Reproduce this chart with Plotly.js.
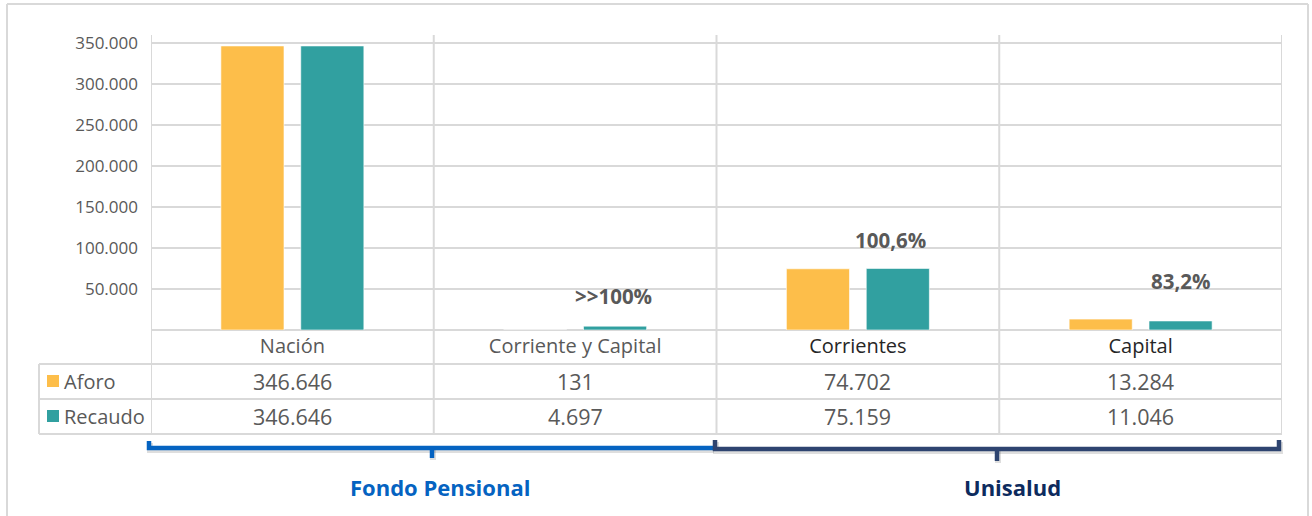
<!DOCTYPE html>
<html>
<head>
<meta charset="utf-8">
<script src="https://cdn.plot.ly/plotly-3.0.1.min.js"></script>
<style>
html,body{margin:0;padding:0;background:#fff;}
#chart{width:1312px;height:516px;}
</style>
</head>
<body>
<div id="chart"></div>
<script>
// ---- data ----
const categories = ['Nación', 'Corriente y Capital', 'Corrientes', 'Capital'];
const aforo = [346646, 131, 74702, 13284];
const recaudo = [346646, 4697, 75159, 11046];
const seriesNames = ['Aforo', 'Recaudo'];
const pctLabels = ['', '>>100%', '100,6%', '83,2%'];
const groupNames = ['Fondo Pensional', 'Unisalud'];
const yTicks = [50000, 100000, 150000, 200000, 250000, 300000, 350000];

// ---- styling ----
const FONT = 'Open Sans, Noto Sans, sans-serif';
const GRAY = '#595959';
const GRID = '#d9d9d9';
const C_AFORO = '#FDBE4A';
const C_RECAUDO = '#31A0A0';
const catColors = [GRAY, GRAY, '#262626', '#262626'];

// plot-area pixel geometry
const L = 151, R = 1282, T = 35, B = 330, W = 1312, H = 516;
const px = x => (x - L) / (R - L);
const py = y => (B - y) / (B - T);

function fmt(n) {
  return String(n).replace(/\B(?=(\d{3})+(?!\d))/g, '.');
}

const traces = [
  {type: 'bar', name: seriesNames[0], x: categories, y: aforo,
   marker: {color: C_AFORO, line: {color: 'rgba(255,255,255,0.6)', width: 1}}, hoverinfo: 'x+y'},
  {type: 'bar', name: seriesNames[1], x: categories, y: recaudo,
   marker: {color: C_RECAUDO, line: {color: 'rgba(255,255,255,0.6)', width: 1}}, hoverinfo: 'x+y'}
];

const shapes = [];
const line = (x0, y0, x1, y1, color, width) => shapes.push({
  type: 'line', xref: 'paper', yref: 'paper', x0: px(x0), y0: py(y0), x1: px(x1), y1: py(y1),
  line: {color: color || GRID, width: width || 2}, layer: 'below'
});

// outer frame
line(7, 4, 1308, 4); line(7, 4, 7, 520); line(1308, 4, 1308, 520);
// table rows
line(L, 330, R, 330);
line(39, 364, R, 364);
line(39, 399, R, 399);
line(39, 434, R, 434);
line(39, 364, 39, 434);
// vertical category separators (from top of plot through table)
[-0.5, 0.5, 1.5, 2.5, 3.5].forEach(v => shapes.push({
  type: 'line', xref: 'x', yref: 'paper', x0: v, x1: v, y0: 1, y1: py(434),
  line: {color: GRID, width: 2}, layer: 'below'
}));
// legend squares
shapes.push({type: 'rect', xref: 'paper', yref: 'paper', x0: px(47), x1: px(59), y0: py(375), y1: py(387),
  fillcolor: C_AFORO, line: {width: 0}});
shapes.push({type: 'rect', xref: 'paper', yref: 'paper', x0: px(47), x1: px(59), y0: py(410), y1: py(422),
  fillcolor: C_RECAUDO, line: {width: 0}});

// braces
function pathStr(pts) {
  return pts.map((p, i) => (i ? 'L' : 'M') + px(p[0]) + ',' + py(p[1])).join(' ');
}
function brace(pts, tick, color) {
  const sh = (arr) => arr.map(p => [p[0] + 1, p[1] + 2]);
  shapes.push({type: 'path', xref: 'paper', yref: 'paper', path: pathStr(sh(pts)), line: {color: 'rgba(0,0,0,0.13)', width: 6}});
  shapes.push({type: 'path', xref: 'paper', yref: 'paper', path: pathStr(sh(tick)), line: {color: 'rgba(0,0,0,0.13)', width: 6}});
  shapes.push({type: 'path', xref: 'paper', yref: 'paper', path: pathStr(pts), line: {color: color, width: 4.5}});
  shapes.push({type: 'path', xref: 'paper', yref: 'paper', path: pathStr(tick), line: {color: color, width: 4.5}});
}
brace([[149, 441], [149, 448], [713, 448]], [[432, 448], [432, 458]], '#0563C1');
brace([[715, 440], [715, 449], [1279, 449], [1279, 440]], [[997, 449], [997, 461]], '#2E4470');

const annotations = [];
// legend texts
[[seriesNames[0], 381.5], [seriesNames[1], 416.5]].forEach(([t, y]) => annotations.push({
  xref: 'paper', yref: 'paper', x: px(62), y: py(y), xanchor: 'left', yanchor: 'middle',
  text: t, showarrow: false, font: {family: FONT, size: 20, color: GRAY}
}));
// table values
categories.forEach((c, i) => {
  annotations.push({xref: 'x', yref: 'paper', x: c, y: py(381.5), xanchor: 'center', yanchor: 'middle',
    text: fmt(aforo[i]), showarrow: false, font: {family: FONT, size: 21.5, color: GRAY}});
  annotations.push({xref: 'x', yref: 'paper', x: c, y: py(416.5), xanchor: 'center', yanchor: 'middle',
    text: fmt(recaudo[i]), showarrow: false, font: {family: FONT, size: 21.5, color: GRAY}});
});
// percentage labels
const pctShiftX = [0, 38, 33, 40];
const pctShiftY = [0, 30, 28, 40];
categories.forEach((c, i) => {
  if (!pctLabels[i]) return;
  annotations.push({xref: 'x', yref: 'y', x: c, y: recaudo[i], xshift: pctShiftX[i], yshift: pctShiftY[i],
    xanchor: 'center', yanchor: 'middle',
    text: '<b>' + pctLabels[i] + '</b>', showarrow: false, font: {family: FONT, size: 20.5, color: GRAY}});
});
// group labels
annotations.push({xref: 'paper', yref: 'paper', x: px(440), y: py(487), xanchor: 'center', yanchor: 'middle',
  text: '<b>' + groupNames[0] + '</b>', showarrow: false, font: {family: FONT, size: 22, color: '#0563C1'}});
annotations.push({xref: 'paper', yref: 'paper', x: px(1012), y: py(487), xanchor: 'center', yanchor: 'middle',
  text: '<b>' + groupNames[1] + '</b>', showarrow: false, font: {family: FONT, size: 22, color: '#0D2B5E'}});

const layout = {
  width: W, height: H,
  margin: {l: L, r: W - R, t: T, b: H - B, pad: 0},
  paper_bgcolor: '#ffffff', plot_bgcolor: '#ffffff',
  separators: ',.',
  showlegend: false,
  barmode: 'group', bargap: 0.435, bargroupgap: 0.21,
  font: {family: FONT, color: GRAY},
  xaxis: {
    type: 'category', range: [-0.5, 3.5], showgrid: false, zeroline: false, showline: false, ticks: '',
    tickvals: categories,
    ticktext: categories.map((c, i) => '<span style="color:' + catColors[i] + '">' + c + '</span>'),
    tickfont: {family: FONT, size: 20, color: GRAY}, ticklabelstandoff: 2
  },
  yaxis: {
    range: [0, 360000], tickvals: yTicks, tickformat: ',.0f', showgrid: true, gridcolor: GRID, gridwidth: 2,
    zeroline: false, showline: false, ticks: '', tickfont: {family: FONT, size: 17, color: GRAY},
    ticklabelstandoff: 12
  },
  shapes: shapes,
  annotations: annotations
};

Plotly.newPlot('chart', traces, layout, {displayModeBar: false, staticPlot: true});
</script>
</body>
</html>
